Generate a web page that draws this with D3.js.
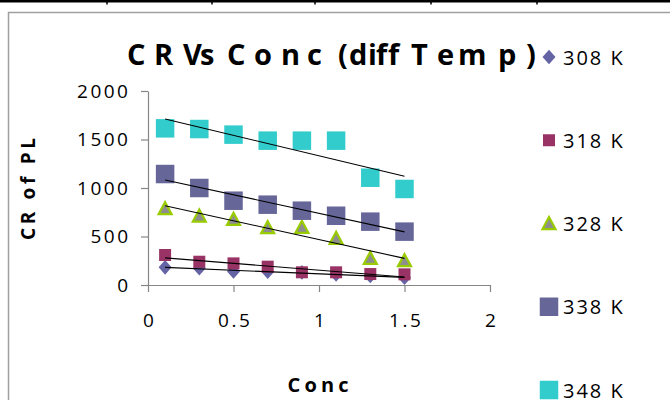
<!DOCTYPE html>
<html>
<head>
<meta charset="utf-8">
<script src="https://cdn.jsdelivr.net/npm/d3@7"></script>
<style>
  html, body { margin: 0; padding: 0; background: #fff; }
  svg { display: block; }
  text { font-family: "Open Sans", "DejaVu Sans", sans-serif; }
</style>
</head>
<body>
<svg id="chart" width="670" height="400"></svg>
<script>
// Concentration (x) and corrosion rate readings for each temperature
const conc   = [0.1, 0.3, 0.5, 0.7, 0.9, 1.1, 1.3, 1.5];
const cr308  = [182, 172, 140, 137, 130, 110, 93, 75];
const cr318  = [309, 240, 223, 189, 131, 131, 113, 110];
const cr328  = [787, 711, 677, 591, 595, 481, 275, 251];
const cr338  = [1144, 1000, 869, 828, 766, 714, 653, 550];
const cr348  = [1615, 1608, 1550, 1488, 1488, 1488, 1106, 990];
const seriesNames = ["308 K", "318 K", "328 K", "338 K", "348 K"];
const xTicks = [0, 0.5, 1, 1.5, 2];
const yTicks = [0, 500, 1000, 1500, 2000];

const svg = d3.select("#chart");

// page rule above the chart box
const ruleCols = [107, 212, 315, 431, 537];
svg.append("rect").attr("x", 0).attr("y", 0).attr("width", 670).attr("height", 2.5).attr("fill", "#000");
svg.selectAll(".rulecol").data(ruleCols).enter().append("rect")
  .attr("x", d => d - 0.75).attr("y", 0).attr("width", 1.5).attr("height", 4.5).attr("fill", "#000");

// chart area border
svg.append("rect").attr("x", 8.5).attr("y", 12.5).attr("width", 700).attr("height", 420)
  .attr("fill", "none").attr("stroke", "#a0a0a0").attr("stroke-width", 1.5);

const x = d3.scaleLinear().domain([0, 2]).range([148, 490]);
const y = d3.scaleLinear().domain([0, 2000]).range([285, 91]);

// axes
const xAxis = svg.append("g").attr("transform", `translate(0,${y(0)})`)
  .call(d3.axisBottom(x).tickValues(xTicks).tickFormat(d3.format("")).tickSizeOuter(0).tickSizeInner(7).tickPadding(22));
const yAxis = svg.append("g").attr("transform", `translate(${x(0)},0)`)
  .call(d3.axisLeft(y).tickValues(yTicks).tickFormat(d3.format("d")).tickSizeOuter(0).tickSizeInner(7).tickPadding(13));
[xAxis, yAxis].forEach(g => {
  g.select(".domain").attr("stroke", "#868686").attr("stroke-width", 1.2);
  g.selectAll(".tick line").attr("stroke", "#868686").attr("stroke-width", 1.2);
  g.selectAll(".tick text").attr("fill", "#000").style("font-size", "19px")
    .style("font-family", "'Open Sans', sans-serif").style("letter-spacing", "2.5px");
});
yAxis.selectAll(".tick text").attr("dx", "2.5px");
xAxis.selectAll(".tick text").attr("dx", "1.2px");

const series = [
  { name: seriesNames[0], values: cr308, shape: "diamond", size: 13, fill: "#6464a4" },
  { name: seriesNames[1], values: cr318, shape: "square", size: 12, fill: "#993366" },
  { name: seriesNames[2], values: cr328, shape: "triangle", size: 13, fill: "#8e8e8e", stroke: "#99cc00" },
  { name: seriesNames[3], values: cr338, shape: "square", size: 18.5, fill: "#666699" },
  { name: seriesNames[4], values: cr348, shape: "square", size: 18.5, fill: "#33cccc" }
];

function markerPath(shape, s) {
  const h = s / 2;
  if (shape === "diamond") return `M0,${-h - 0.8}L${h},0L0,${h + 0.8}L${-h},0Z`;
  if (shape === "triangle") return `M0,${-h}L${h},${h * 0.85}L${-h},${h * 0.85}Z`;
  return `M${-h},${-h}H${h}V${h}H${-h}Z`;
}

function drawMarker(g, s, cx, cy) {
  g.append("path")
    .attr("d", markerPath(s.shape, s.size))
    .attr("transform", `translate(${cx},${cy})`)
    .attr("fill", s.fill)
    .attr("stroke", s.stroke || "none")
    .attr("stroke-width", s.stroke ? 2.2 : 0)
    .attr("stroke-linejoin", "miter");
}

// markers
const plot = svg.append("g");
series.forEach(s => {
  s.values.forEach((v, i) => drawMarker(plot, s, x(conc[i]), y(v)));
});

// least-squares trendlines over the measured range
const xMean = d3.mean(conc);
series.forEach(s => {
  const yMean = d3.mean(s.values);
  const sxy = d3.sum(conc, (c, i) => (c - xMean) * (s.values[i] - yMean));
  const sxx = d3.sum(conc, c => (c - xMean) ** 2);
  const slope = sxy / sxx;
  const icpt = yMean - slope * xMean;
  const x0 = d3.min(conc), x1 = d3.max(conc);
  svg.append("line")
    .attr("x1", x(x0)).attr("y1", y(icpt + slope * x0))
    .attr("x2", x(x1)).attr("y2", y(icpt + slope * x1))
    .attr("stroke", "#000").attr("stroke-width", 1.1);
});

// chart title, with its loose glyph spacing
const titleText = "CR Vs Conc (diff Temp)";
const titleGlyphX = [127, 154, 170, 183, 200, 213, 227, 254, 281, 307, 322, 338, 349, 368, 376, 388, 403, 411, 437, 458, 498, 526];
svg.append("text").attr("x", titleGlyphX.join(" ")).attr("y", 65)
  .style("font-size", "29px").style("font-weight", "bold").attr("fill", "#000")
  .text(titleText);

svg.append("text").attr("transform", "translate(35,189) rotate(-90)")
  .attr("text-anchor", "middle").attr("textLength", 102).attr("lengthAdjust", "spacing")
  .style("font-size", "19px").style("font-weight", "bold").attr("fill", "#000")
  .text("CR of PL");

svg.append("text").attr("x", 318).attr("y", 392)
  .attr("text-anchor", "middle").attr("textLength", 61).attr("lengthAdjust", "spacing")
  .style("font-size", "20px").style("font-weight", "bold").attr("fill", "#000")
  .text("Conc");

// legend
const legY = d3.scalePoint().domain(seriesNames).range([57, 390]);
const leg = svg.append("g");
series.forEach(s => {
  const cy = legY(s.name);
  drawMarker(leg, s, 549, cy);
  leg.append("text").attr("x", 563).attr("y", cy + 7.5)
    .style("font-size", "20px").style("letter-spacing", "2px").attr("fill", "#000")
    .text(s.name);
});
</script>
</body>
</html>
